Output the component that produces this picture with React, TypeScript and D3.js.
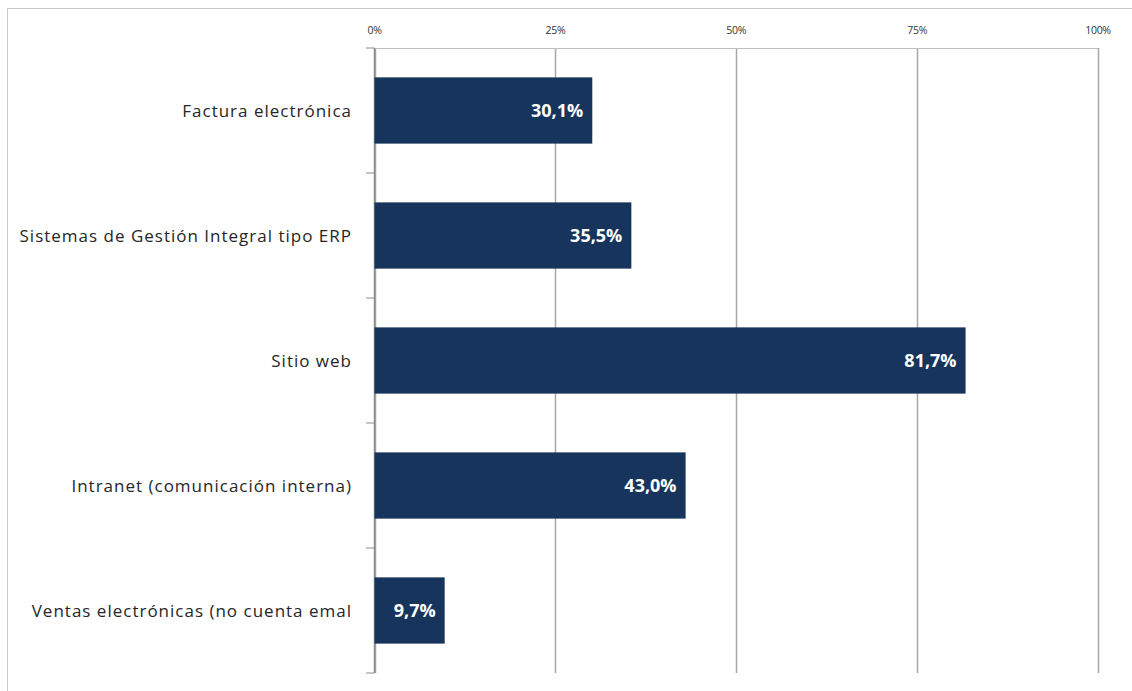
import React from "react";
import * as d3 from "d3";

const categories = [
  "Factura electrónica",
  "Sistemas de Gestión Integral tipo ERP",
  "Sitio web",
  "Intranet (comunicación interna)",
  "Ventas electrónicas (no cuenta emal",
];
const values = [30.1, 35.5, 81.7, 43.0, 9.7];
const tickValues = [0, 25, 50, 75, 100];

const W = 1132;
const H = 691;
const left = 374.5;
const right = 1098;
const top = 48;
const bottom = 673;

export default function App() {
  const x = d3.scaleLinear().domain([0, 100]).range([left, right]);
  const y = d3.scaleBand<string>().domain(categories).range([top, bottom]).paddingInner(0.47).paddingOuter(0.235);
  const step = y.step();
  const fmt = (v: number) => v.toFixed(1).replace(".", ",") + "%";
  const font = "'Open Sans', Lato, sans-serif";

  return (
    <svg width={W} height={H} style={{ position: "absolute", left: 0, top: 0, background: "#fff" }}>
      <line x1={7} y1={8.5} x2={W} y2={8.5} stroke="#c8c8c8" strokeWidth={1} />
      <line x1={7.5} y1={8} x2={7.5} y2={H} stroke="#c8c8c8" strokeWidth={1} />
      {tickValues.map((t) => (
        <g key={t}>
          <line x1={Math.round(x(t)) + 0.5} x2={Math.round(x(t)) + 0.5} y1={top} y2={bottom} stroke="#a6a6a6" strokeWidth={1.5} />
          <text x={x(t)} y={34} textAnchor="middle" fontFamily={font} fontSize={10.5} letterSpacing={-0.3} fill="#333">
            {t}%
          </text>
        </g>
      ))}
      <line x1={left} x2={right} y1={top + 0.5} y2={top + 0.5} stroke="#bfbfbf" strokeWidth={1} />
      {d3.range(categories.length + 1).map((i) => (
        <line key={i} x1={366} x2={left} y1={top + i * step} y2={top + i * step} stroke="#8c8c8c" strokeWidth={1} />
      ))}
      <line x1={left} x2={left} y1={top} y2={bottom} stroke="#8c8c8c" strokeWidth={1.5} />
      {categories.map((c, i) => (
        <g key={c}>
          <rect x={x(0)} y={y(c)!} width={x(values[i]) - x(0)} height={y.bandwidth()} fill="#17355c" />
          <text
            x={x(values[i]) - 9}
            y={y(c)! + y.bandwidth() / 2}
            dy="0.36em"
            textAnchor="end"
            fontFamily={font}
            fontWeight="bold"
            fontSize={18}
            fill="#fff"
          >
            {fmt(values[i])}
          </text>
          <text
            x={352}
            y={y(c)! + y.bandwidth() / 2}
            dy="0.36em"
            textAnchor="end"
            fontFamily={font}
            fontSize={17}
            letterSpacing={1}
            fill="#262626"
          >
            {c}
          </text>
        </g>
      ))}
    </svg>
  );
}
